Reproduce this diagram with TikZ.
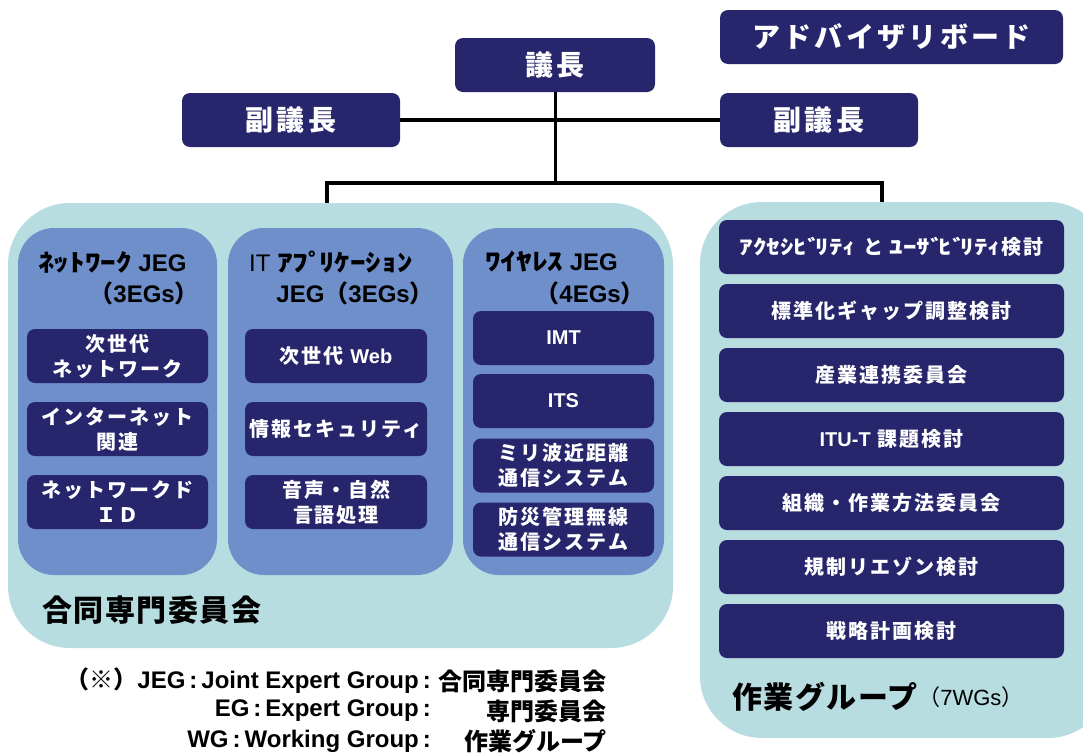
\documentclass[tikz,border=0pt]{standalone}
\usepackage{fontspec}
\setmainfont{Liberation Sans}
\newfontfamily\jp{Noto Sans CJK JP}
\newfontfamily\jpbig{Noto Sans CJK JP}[LetterSpace=5]
\newfontfamily\jpsp{Noto Sans CJK JP}[LetterSpace=10]
\newfontfamily\jpwide{Noto Sans CJK JP}[LetterSpace=12]
\newfontfamily\jph{Noto Sans CJK JP}[FakeStretch=1.35]
\newfontfamily\jpht{Noto Sans CJK JP}[FakeStretch=1.3]
\newcommand\latn[1]{{\rmfamily #1}}
\newcommand\dkn{ﾞ\kern-5pt}
\newcommand\hdk{ﾟ\kern-5pt}
\definecolor{navyc}{RGB}{39,38,108}
\definecolor{tealc}{RGB}{184,221,224}
\definecolor{midc}{RGB}{111,143,203}
\tikzset{
  navybox/.style={fill=navyc, rounded corners=8pt, text=white, align=center,
    inner sep=0pt, minimum height=54pt, font=\bfseries\fontsize{20}{25}\selectfont\jpsp},
  topbox/.style={navybox, font=\bfseries\fontsize{28}{32}\selectfont\jpwide},
  outerpanel/.style={fill=tealc, rounded corners=62pt, inner sep=0pt},
  jegpanel/.style={fill=midc, rounded corners=36pt, inner sep=0pt},
  conn/.style={draw=black, line width=4.5pt},
  ttl/.style={inner sep=0pt, text=black, font=\bfseries\fontsize{24}{28}\selectfont},
  bigttl/.style={inner sep=0pt, text=black, font=\bfseries\fontsize{30}{34}\selectfont\jpbig},
  note/.style={inner sep=0pt, text=black, font=\bfseries\fontsize{24}{28}\selectfont},
}
\begin{document}
\begin{tikzpicture}[x=1pt,y=-1pt]
\useasboundingbox (0,0) rectangle (1083,753);
% panels
\node[outerpanel, minimum width=665pt, minimum height=445pt] (jcp) at (340.5,425.5) {};
\node[outerpanel, minimum width=410pt, minimum height=536pt] (wgp) at (905,470) {};
\node[jegpanel, minimum width=199pt, minimum height=347pt] (netp) at (117.5,401.5) {};
\node[jegpanel, minimum width=225pt, minimum height=347pt] (itp) at (340.5,401.5) {};
\node[jegpanel, minimum width=201pt, minimum height=347pt] (wlp) at (563.5,401.5) {};
% top boxes
\node[topbox, minimum width=200pt] (chair) at (555,65) {議長};
\node[topbox, minimum width=218pt] (vcL) at (291,120) {副議長};
\node[topbox, minimum width=198pt] (vcR) at (819,120) {副議長};
\node[topbox, minimum width=343pt] (adv) at (891.5,37) {アドバイザリボード};
% connectors
\coordinate (jL) at (327,183);
\coordinate (jR) at (882,183);
\draw[conn] (vcL.east) -- (vcR.west);
\draw[conn, line width=3pt] (chair.south) -- (chair.south |- jL);
\draw[conn, line join=miter] (jL |- jcp.north) -- (jL) -- (jR) -- (jR |- wgp.north);
% JEG titles
\node[ttl, anchor=west] (netT1) at (38,262) {{\jpht ﾈｯﾄﾜｰｸ} JEG};
\node[ttl, anchor=east] (netT2) at (199,293) {{\jp （}3EGs{\jp ）}};
\node[ttl, anchor=west] (itT1) at (249,262) {{\mdseries IT} {\jpht ｱﾌ\hdk ﾘｹｰｼｮﾝ}};
\node[ttl, anchor=east] (itT2) at (434,293) {JEG{\jp （}3EGs{\jp ）}};
\node[ttl, anchor=west] (wlT1) at (485,262) {{\jpht ﾜｲﾔﾚｽ} JEG};
\node[ttl, anchor=east] (wlT2) at (645,293) {{\jp （}4EGs{\jp ）}};
% network EGs
\node[navybox, minimum width=181pt] (n1) at (117.5,356) {次世代\\ネットワーク};
\node[navybox, minimum width=181pt] (n2) at (117.5,429) {インターネット\\関連};
\node[navybox, minimum width=181pt] (n3) at (117.5,502) {ネットワークド\\ＩＤ};
% IT EGs
\node[navybox, minimum width=182pt] (i1) at (336,356) {次世代 \latn{Web}};
\node[navybox, minimum width=182pt] (i2) at (336,429) {情報セキュリティ};
\node[navybox, minimum width=182pt] (i3) at (336,502) {音声・自然\\言語処理};
% wireless EGs
\node[navybox, minimum width=181pt] (w1) at (563.5,338) {\latn{IMT}};
\node[navybox, minimum width=181pt] (w2) at (563.5,401) {\latn{ITS}};
\node[navybox, minimum width=181pt] (w3) at (563.5,465.5) {ミリ波近距離\\通信システム};
\node[navybox, minimum width=181pt] (w4) at (563.5,529.5) {防災管理無線\\通信システム};
% WGs
\node[navybox, minimum width=345pt] (g1) at (891.5,247) {{\jph ｱｸｾｼﾋ\dkn ﾘﾃｨ} と {\jph ﾕｰｻ\dkn ﾋ\dkn ﾘﾃｨ}検討};
\node[navybox, minimum width=345pt] (g2) at (891.5,311) {標準化ギャップ調整検討};
\node[navybox, minimum width=345pt] (g3) at (891.5,375) {産業連携委員会};
\node[navybox, minimum width=345pt] (g4) at (891.5,439) {\latn{ITU-T} 課題検討};
\node[navybox, minimum width=345pt] (g5) at (891.5,503) {組織・作業方法委員会};
\node[navybox, minimum width=345pt] (g6) at (891.5,567) {規制リエゾン検討};
\node[navybox, minimum width=345pt] (g7) at (891.5,631) {戦略計画検討};
% panel titles
\node[bigttl, anchor=west] (jcpT) at (42,610) {合同専門委員会};
\node[bigttl, anchor=west] (wgpT) at (732,697) {作業グループ};
\node[inner sep=0pt, anchor=west, font=\fontsize{22}{26}\selectfont] (wgpN) at (wgpT.east) {{\jp （}7WGs{\jp ）}};
% notes
\node[note, anchor=east] (r1a) at (431,681) {{\jp （※）}JEG\,:\,Joint Expert Group\,:};
\node[note, anchor=east] (r1b) at (607,681) {\jp 合同専門委員会};
\node[note, anchor=east] (r2a) at (431,711) {EG\,:\,Expert Group\,:};
\node[note, anchor=east] (r2b) at (607,711) {\jp 専門委員会};
\node[note, anchor=east] (r3a) at (431,741) {WG\,:\,Working Group\,:};
\node[note, anchor=east] (r3b) at (607,741) {\jp 作業グループ};
\end{tikzpicture}
\end{document}
